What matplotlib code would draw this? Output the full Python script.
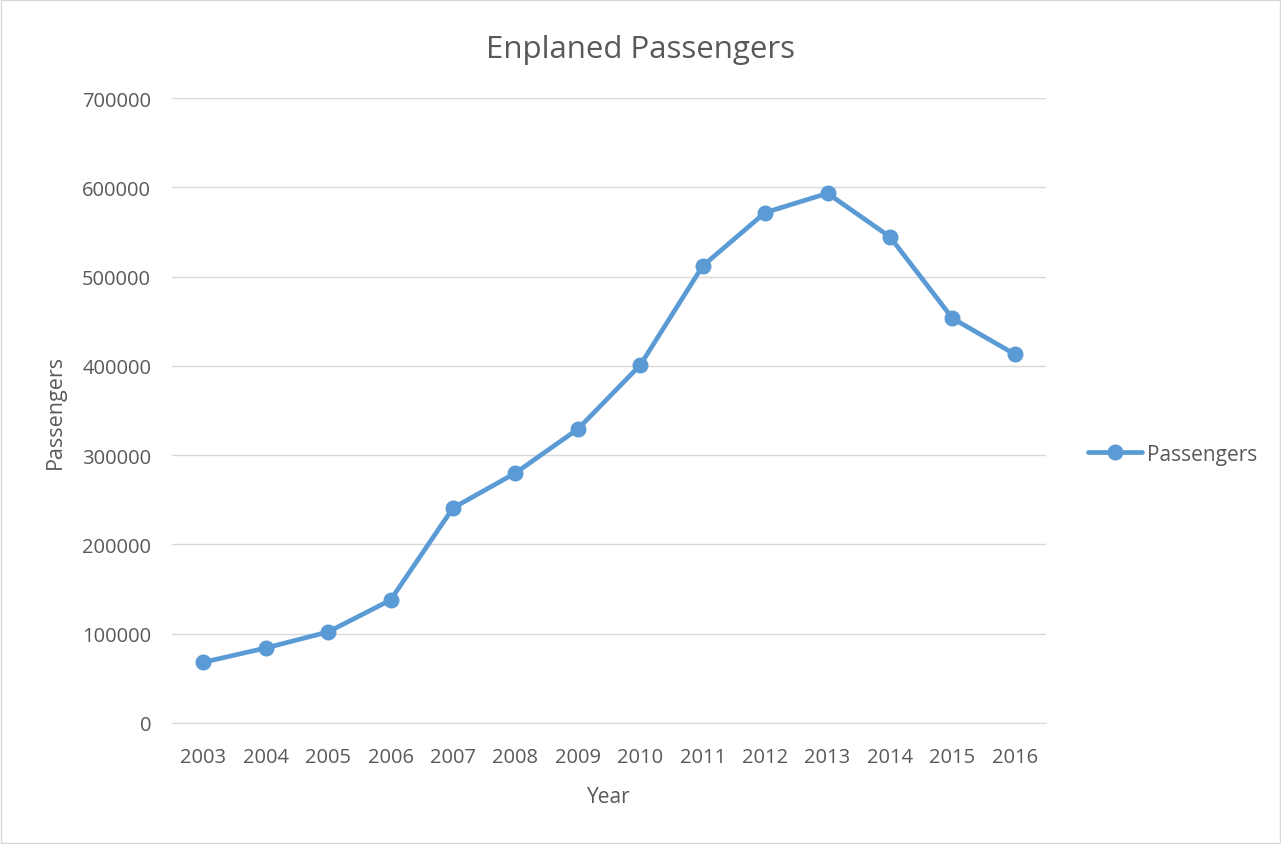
import matplotlib.pyplot as plt

# values
years = ["2003", "2004", "2005", "2006", "2007", "2008", "2009",
         "2010", "2011", "2012", "2013", "2014", "2015", "2016"]
passengers = [68000, 84000, 102000, 137700, 240800, 280000, 329200,
              400900, 511900, 571700, 593300, 544500, 453300, 413000]
y_ticks = [0, 100000, 200000, 300000, 400000, 500000, 600000, 700000]

blue = "#5B9BD5"
grey_text = "#595959"
grid_col = "#D9D9D9"

plt.rcParams['font.family'] = ['Open Sans', 'DejaVu Sans']

fig = plt.figure(figsize=(12.81, 8.45), dpi=100)
ax = fig.add_axes([0.1343, 0.1432, 0.6823, 0.7396])

x = range(len(years))
ax.plot(x, passengers, color=blue, linewidth=3.4, marker='o',
        markersize=10.5, label="Passengers", solid_capstyle='round')

ax.set_xlim(-0.5, len(years) - 0.5)
ax.set_ylim(0, 700000)
ax.set_yticks(y_ticks)
ax.set_yticklabels([str(v) for v in y_ticks])
ax.set_xticks(list(x))
ax.set_xticklabels(years)

ax.grid(True, axis='y', color=grid_col, linewidth=1)
ax.set_axisbelow(True)
for side in ['top', 'right', 'left']:
    ax.spines[side].set_visible(False)
ax.spines['bottom'].set_color(grid_col)
ax.tick_params(length=0, labelsize=14.5, colors=grey_text)
ax.tick_params(axis='y', pad=15)
ax.tick_params(axis='x', pad=17)

ax.set_xlabel("Year", fontsize=15, color=grey_text, labelpad=14)
ax.set_ylabel("Passengers", fontsize=15.5, color=grey_text, labelpad=12)
fig.text(0.5, 1 - 58 / 845, "Enplaned Passengers", ha='center',
         va='baseline', fontsize=22.5, color=grey_text)

ax.legend(loc='center left', bbox_to_anchor=(1.026, 0.43), frameon=False,
          fontsize=15, labelcolor=grey_text, handlelength=2.6,
          handletextpad=0.25)

# light outer border like the source image
fig.patches.append(plt.Rectangle((0.001, 0.001), 0.998, 0.998,
                                 transform=fig.transFigure, fill=False,
                                 edgecolor="#D9D9D9", linewidth=1))

fig.savefig("out.png", dpi=100)
